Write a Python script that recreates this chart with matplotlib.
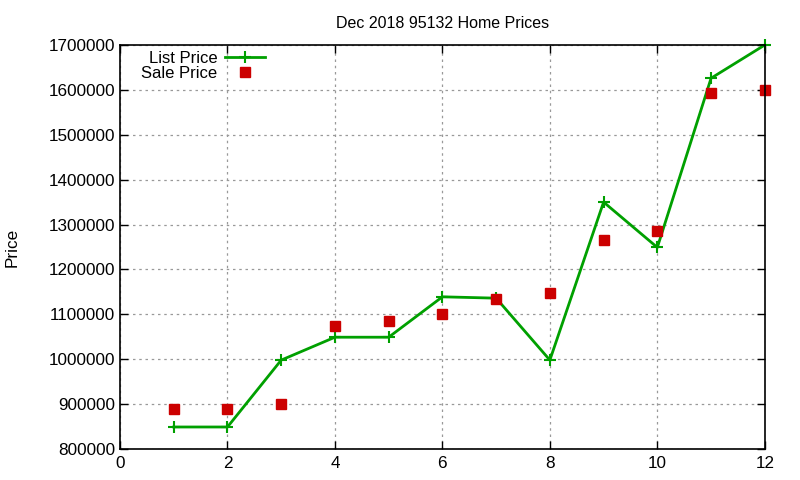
import matplotlib
matplotlib.use("Agg")
import matplotlib.pyplot as plt

plt.rcParams['font.family'] = ['Liberation Sans', 'DejaVu Sans']

months = [1, 2, 3, 4, 5, 6, 7, 8, 9, 10, 11, 12]
list_price = [849000, 849000, 998000, 1049000, 1049000, 1139000,
              1136000, 998000, 1350000, 1249000, 1626000, 1700000]
sale_price = [889000, 889000, 900000, 1074000, 1085000, 1100000,
              1134000, 1147000, 1265000, 1286000, 1592000, 1600000]

fig = plt.figure(figsize=(8, 4.8), dpi=100)
ax = fig.add_axes([0.15, 0.0646, 0.806, 0.8417])

ax.plot(months, list_price, color='#00a000', lw=2, marker='+', ms=9,
        mew=1.5, label='List Price', clip_on=False)
ax.plot(months, sale_price, ls='none', marker='s', ms=6.5,
        color='#cc0000', label='Sale Price', clip_on=False)

ax.set_xlim(0, 12)
ax.set_ylim(800000, 1700000)
ax.set_xticks(range(0, 13, 2))
ax.set_yticks(range(800000, 1700001, 100000))
ax.ticklabel_format(style='plain', axis='y', useOffset=False)
ax.tick_params(direction='in', top=True, right=True, length=6,
               labelsize=12.3, width=1)
ax.tick_params(axis='x', pad=5)
for s in ax.spines.values():
    s.set_linewidth(1.2)
ax.grid(True, ls=(0, (2, 3)), color='#999999', lw=0.9)

ax.set_title('Dec 2018 95132 Home Prices', fontsize=11.5, pad=12)
ax.set_ylabel('Price', fontsize=12.3)
ax.yaxis.set_label_coords(-0.155, 0.5)

ax.legend(loc='upper left', bbox_to_anchor=(0.015, 1.015), markerfirst=False,
          frameon=False, fontsize=12, handlelength=2.4, labelspacing=0.0,
          borderaxespad=0.3, handletextpad=0.45)

fig.savefig('out.png')
